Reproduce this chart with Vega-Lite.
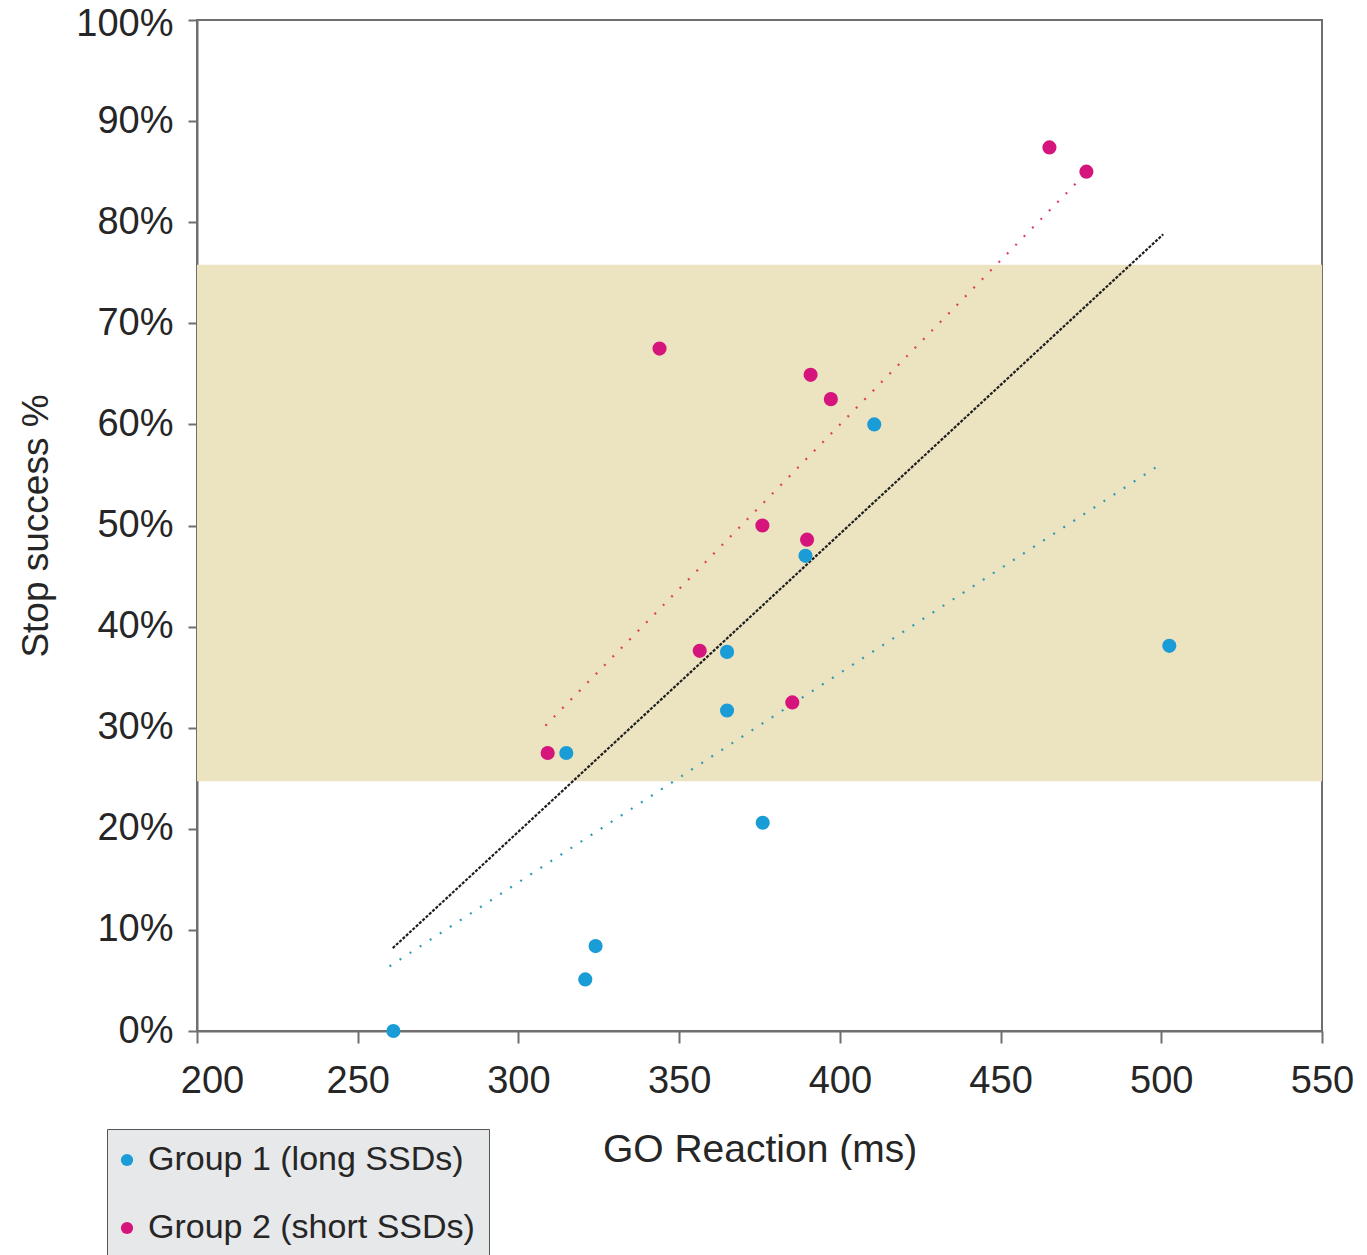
{
  "$schema": "https://vega.github.io/schema/vega-lite/v6.json",
  "width": 1125,
  "height": 1011,
  "autosize": {"type": "none"},
  "padding": {"left": 197, "top": 20, "right": 45, "bottom": 224},
  "background": "white",
  "config": {
    "font": "Liberation Sans",
    "view": {"stroke": "#6f6f6f", "strokeWidth": 2},
    "axis": {
      "grid": false,
      "domainColor": "#6f6f6f",
      "domainWidth": 2,
      "tickColor": "#6f6f6f",
      "tickWidth": 2,
      "labelFont": "Liberation Sans",
      "labelFontSize": 38,
      "labelColor": "#262626",
      "titleFont": "Liberation Sans",
      "titleFontSize": 37,
      "titleFontWeight": "normal",
      "titleColor": "#262626"
    }
  },
  "datasets": {
    "points": [
      {"group": "Group 1 (long SSDs)", "rt": 261.1, "stop": 0.0},
      {"group": "Group 1 (long SSDs)", "rt": 320.8, "stop": 5.1},
      {"group": "Group 1 (long SSDs)", "rt": 324.0, "stop": 8.4},
      {"group": "Group 1 (long SSDs)", "rt": 314.9, "stop": 27.5},
      {"group": "Group 1 (long SSDs)", "rt": 364.9, "stop": 31.7},
      {"group": "Group 1 (long SSDs)", "rt": 364.9, "stop": 37.5},
      {"group": "Group 1 (long SSDs)", "rt": 376.0, "stop": 20.6},
      {"group": "Group 1 (long SSDs)", "rt": 389.3, "stop": 47.0},
      {"group": "Group 1 (long SSDs)", "rt": 410.7, "stop": 60.0},
      {"group": "Group 1 (long SSDs)", "rt": 502.5, "stop": 38.1},
      {"group": "Group 2 (short SSDs)", "rt": 309.1, "stop": 27.5},
      {"group": "Group 2 (short SSDs)", "rt": 343.9, "stop": 67.5},
      {"group": "Group 2 (short SSDs)", "rt": 356.4, "stop": 37.6},
      {"group": "Group 2 (short SSDs)", "rt": 375.9, "stop": 50.0},
      {"group": "Group 2 (short SSDs)", "rt": 385.2, "stop": 32.5},
      {"group": "Group 2 (short SSDs)", "rt": 389.8, "stop": 48.6},
      {"group": "Group 2 (short SSDs)", "rt": 390.9, "stop": 64.9},
      {"group": "Group 2 (short SSDs)", "rt": 397.2, "stop": 62.5},
      {"group": "Group 2 (short SSDs)", "rt": 465.2, "stop": 87.4},
      {"group": "Group 2 (short SSDs)", "rt": 476.7, "stop": 85.0}
    ],
    "fits": [
      {"fit": "all", "rt": 260.9, "stop": 8.2},
      {"fit": "all", "rt": 500.6, "stop": 78.8},
      {"fit": "short", "rt": 308.4, "stop": 30.2},
      {"fit": "short", "rt": 475.8, "stop": 84.6},
      {"fit": "long", "rt": 259.9, "stop": 6.4},
      {"fit": "long", "rt": 500.0, "stop": 56.1}
    ],
    "band": [
      {"xa": 200, "xb": 550, "ya": 24.7, "yb": 75.8}
    ]
  },
  "layer": [
    {
      "data": {"name": "band"},
      "mark": {"type": "rect", "color": "#ece3c1"},
      "encoding": {
        "x": {"field": "xa", "type": "quantitative"},
        "x2": {"field": "xb"},
        "y": {"field": "ya", "type": "quantitative"},
        "y2": {"field": "yb"}
      }
    },
    {
      "data": {"name": "fits"},
      "transform": [{"filter": {"field": "fit", "equal": "all"}}],
      "mark": {"type": "line", "color": "#1e1e1e", "strokeWidth": 2.2, "strokeDash": [3, 1.5]},
      "encoding": {
        "x": {"field": "rt", "type": "quantitative"},
        "y": {"field": "stop", "type": "quantitative"}
      }
    },
    {
      "data": {"name": "fits"},
      "transform": [{"filter": {"field": "fit", "equal": "short"}}],
      "mark": {"type": "line", "color": "#e0405f", "strokeWidth": 2.2, "strokeDash": [2, 10]},
      "encoding": {
        "x": {"field": "rt", "type": "quantitative"},
        "y": {"field": "stop", "type": "quantitative"}
      }
    },
    {
      "data": {"name": "fits"},
      "transform": [{"filter": {"field": "fit", "equal": "long"}}],
      "mark": {"type": "line", "color": "#2f9bb3", "strokeWidth": 2.2, "strokeDash": [2, 10]},
      "encoding": {
        "x": {"field": "rt", "type": "quantitative"},
        "y": {"field": "stop", "type": "quantitative"}
      }
    },
    {
      "data": {"name": "points"},
      "mark": {"type": "circle", "size": 200, "opacity": 1},
      "encoding": {
        "x": {
          "field": "rt",
          "type": "quantitative",
          "scale": {"domain": [200, 550], "nice": false, "zero": false},
          "axis": {
            "title": "GO Reaction (ms)",
            "titleFontSize": 39,
            "values": [200, 250, 300, 350, 400, 450, 500, 550],
            "tickSize": 12,
            "labelPadding": 19,
            "titlePadding": 30,
            "labelFlush": false,
            "labelOverlap": false,
            "labelOffset": {"condition": {"test": "datum.value == 200", "value": 15}, "value": 0}
          }
        },
        "y": {
          "field": "stop",
          "type": "quantitative",
          "scale": {"domain": [0, 100], "nice": false},
          "axis": {
            "title": "Stop success %",
            "values": [0, 10, 20, 30, 40, 50, 60, 70, 80, 90, 100],
            "labelExpr": "datum.value + '%'",
            "tickSize": 9,
            "labelPadding": 15,
            "titlePadding": 20,
            "labelFlush": false,
            "labelOverlap": false,
            "labelOffset": {"condition": {"test": "datum.value == 100", "value": 4}, "value": 0}
          }
        },
        "color": {
          "field": "group",
          "type": "nominal",
          "scale": {
            "domain": ["Group 1 (long SSDs)", "Group 2 (short SSDs)"],
            "range": ["#1a9cd6", "#d5157b"]
          },
          "legend": {
            "title": null,
            "orient": "none",
            "legendX": -90,
            "legendY": 1109,
            "fillColor": "#e7e8e9",
            "strokeColor": "#555555",
            "padding": 14,
            "rowPadding": 34,
            "symbolType": "circle",
            "symbolSize": 150,
            "symbolStrokeWidth": 0,
            "symbolOpacity": 1,
            "symbolOffset": -11,
            "labelFont": "Liberation Sans",
            "labelFontSize": 34,
            "labelColor": "#262626",
            "labelOffset": 4,
            "labelLimit": 600
          }
        }
      }
    }
  ]
}
